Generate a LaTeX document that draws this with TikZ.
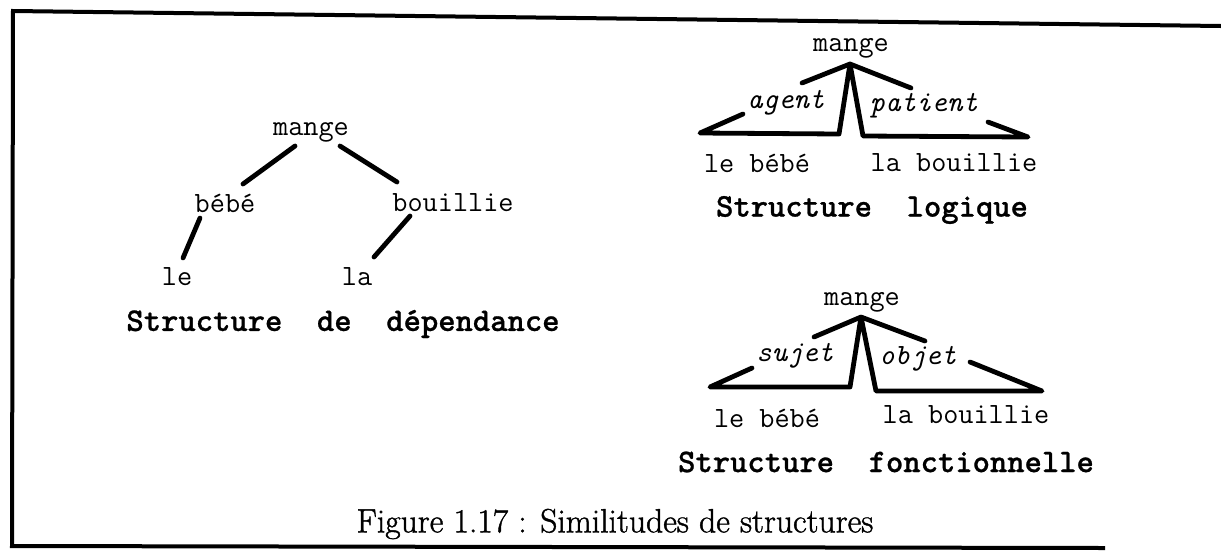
\documentclass[tikz,border=0pt]{standalone}
\usepackage{fontspec}
\newfontfamily\titlefont[FakeBold=0.8]{lmmonolt10-bold.otf}
\newfontfamily\capfont[FakeBold=1.2]{Latin Modern Roman}

\begin{document}
\begin{tikzpicture}[x=0.5pt, y=-0.5pt,
  word/.style={font=\fontsize{14.7}{16}\selectfont\ttfamily, inner sep=1pt},
  role/.style={font=\fontsize{14.7}{16}\selectfont\ttfamily\itshape, inner sep=1pt},
  title/.style={font=\fontsize{16.5}{18}\selectfont\titlefont, inner sep=1pt},
  caption/.style={font=\fontsize{16.8}{19}\selectfont\capfont, inner sep=1pt},
  edge/.style={line width=2.4pt, line cap=round},
  tri/.style={line width=2.4pt, line cap=round, line join=round},
  frm/.style={line width=2pt}
]
\useasboundingbox (0,0) rectangle (1221,553);

% frame
\draw[frm] (1221,26) -- (13,11) -- (12,546) -- (1105,548);

% dependency tree
\node[word] (m1) at (311,132) {mange};
\node[word] (b1) at (225,203) {bébé};
\node[word] (bo1) at (453,203) {bouillie};
\node[word] (le1) at (177,277) {le};
\node[word] (la1) at (357,277) {la};
\node[title] (t1) at (343,324) {Structure\ \ de\ \ dépendance};

\draw[edge] ([shift={(-16,14)}]m1.center) -- ([shift={(18,-19)}]b1.center);
\draw[edge] ([shift={(29,14)}]m1.center) -- ([shift={(-56,-21)}]bo1.center);
\draw[edge] ([shift={(-25,15)}]b1.center) -- ([shift={(6,-19)}]le1.center);
\draw[edge] ([shift={(-43,13)}]bo1.center) -- ([shift={(17,-20)}]la1.center);

% logical structure
\node[word] (m2) at (851,48) {mange};
\node[role] (ag2) at (786,103) {agent};
\node[role] (pa2) at (924,106) {patient};
\node[word] (le2) at (757,163) {le bébé};
\node[word] (la2) at (954,163) {la bouillie};
\node[title] (t2) at (872,210) {Structure\ \ logique};

\draw[tri] (802,83) -- (850,64) -- (911,88);
\draw[tri] (743,114) -- (700,133) -- (839,134) -- (850,64) -- (863,136) -- (1028,137) -- (988,122);

% functional structure
\node[word] (m3) at (862,302) {mange};
\node[role] (su3) at (795,356) {sujet};
\node[role] (ob3) at (918,359) {objet};
\node[word] (le3) at (767,418) {le bébé};
\node[word] (la3) at (966,415) {la bouillie};
\node[title] (t3) at (886,462) {Structure\ \ fonctionnelle};

\draw[tri] (814,337) -- (861,317) -- (925,341);
\draw[tri] (752,368) -- (710,387) -- (850,387) -- (861,317) -- (876,391) -- (1042,391) -- (970,362);

% caption
\node[caption] (cap) at (615,524) {Figure 1.17 : Similitudes de structures};

\end{tikzpicture}
\end{document}
